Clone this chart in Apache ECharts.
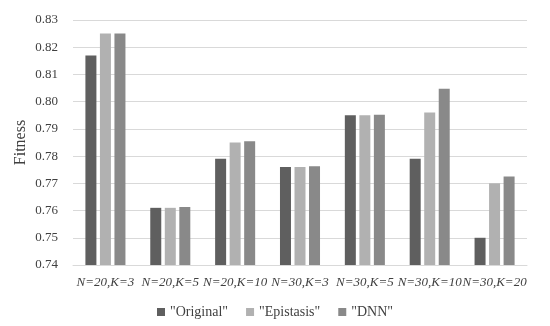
<!DOCTYPE html>
<html>
<head>
<meta charset="utf-8">
<script src="https://cdn.jsdelivr.net/npm/echarts@6/dist/echarts.min.js"></script>
<style>
  html, body { margin: 0; padding: 0; background: #fff; }
  #chart { width: 550px; height: 326px; }
</style>
</head>
<body>
<div id="chart"></div>
<script>
const categories = ['N=20,K=3', 'N=20,K=5', 'N=20,K=10', 'N=30,K=3', 'N=30,K=5', 'N=30,K=10', 'N=30,K=20']
const original = [0.817, 0.761, 0.779, 0.776, 0.795, 0.779, 0.750]
const epistasis = [0.825, 0.761, 0.785, 0.776, 0.795, 0.796, 0.770]
const dnn = [0.825, 0.7613, 0.7855, 0.7763, 0.7952, 0.8047, 0.7725]
const seriesNames = ['"Original"', '"Epistasis"', '"DNN"']

const font = 'Liberation Serif, DejaVu Serif, serif'
const chart = echarts.init(document.getElementById('chart'))

const barSeries = (name, data, color) => ({
  name,
  type: 'bar',
  data,
  barWidth: 11,
  barGap: '32%',
  itemStyle: { color },
  emphasis: { disabled: true }
})

chart.setOption({
  backgroundColor: '#fff',
  animation: false,
  textStyle: { fontFamily: font },
  grid: { left: 73, right: 23, top: 20, bottom: 61 },
  legend: {
    bottom: 2,
    left: 'center',
    itemWidth: 8,
    itemHeight: 8,
    itemGap: 18,
    icon: 'rect',
    textStyle: { fontFamily: font, fontSize: 14, color: '#404040' },
    data: seriesNames
  },
  xAxis: {
    type: 'category',
    data: categories,
    axisLine: { lineStyle: { color: '#d9d9d9' } },
    axisTick: { show: false },
    axisLabel: {
      fontFamily: font,
      fontStyle: 'italic',
      fontSize: 13,
      color: '#404040',
      margin: 11,
      interval: 0
    }
  },
  yAxis: {
    type: 'value',
    min: 0.74,
    max: 0.83,
    interval: 0.01,
    name: 'Fitness',
    nameLocation: 'middle',
    nameGap: 44,
    nameMoveOverlap: false,
    nameTextStyle: { fontFamily: font, fontSize: 16, color: '#404040' },
    axisLine: { show: false },
    axisTick: { show: false },
    splitLine: { lineStyle: { color: '#d9d9d9', width: 1 } },
    axisLabel: {
      fontFamily: font,
      fontSize: 13,
      color: '#404040',
      margin: 15,
      formatter: v => v.toFixed(2)
    }
  },
  series: [
    barSeries(seriesNames[0], original, '#5f5f5f'),
    barSeries(seriesNames[1], epistasis, '#b1b1b1'),
    barSeries(seriesNames[2], dnn, '#898989')
  ]
})
</script>
</body>
</html>
